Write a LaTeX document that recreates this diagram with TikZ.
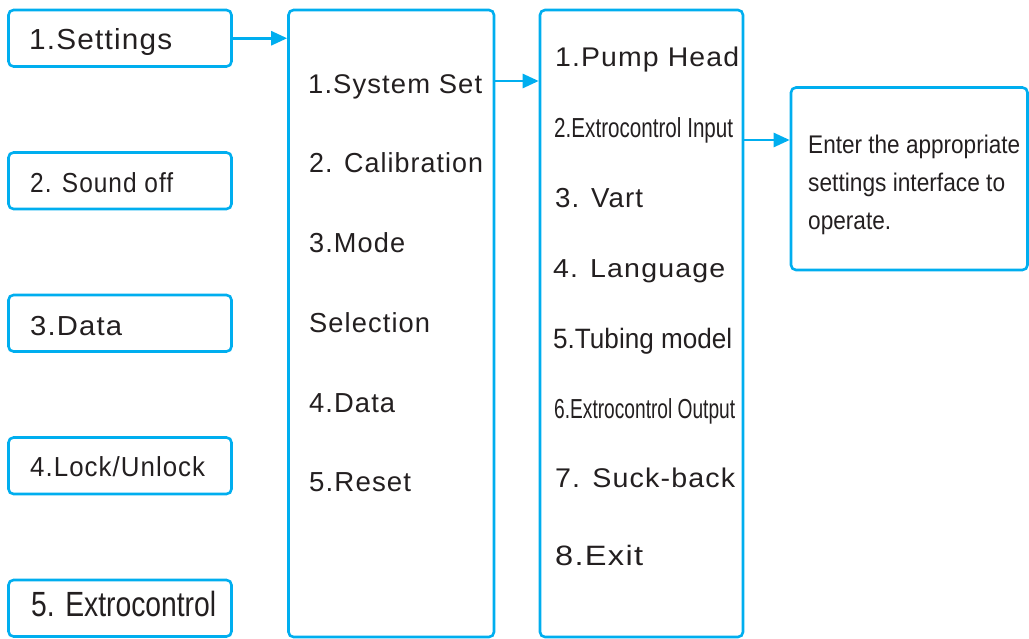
\documentclass[tikz,border=0pt]{standalone}
\usepackage{fontspec}
\setmainfont{Liberation Sans}
\newfontfamily\wfont[LetterSpace=4]{Liberation Sans}
\newfontfamily\nfont{Liberation Sans}
\usetikzlibrary{arrows.meta}
\definecolor{cy}{HTML}{00AEEF}
\definecolor{tx}{HTML}{231F20}
\newcommand\tw[4]{\resizebox{#1pt}{\height}{\fontsize{#2pt}{#2pt}#3#4}}
\tikzset{
  box/.style={draw=cy, line width=2.6pt, rounded corners=5pt, inner sep=0pt},
  lbl/.style={anchor=base west, inner sep=0pt, text=tx},
  arr/.style={draw=cy, line width=2.6pt, -{Triangle[length=16pt,width=14pt]}}
}
\begin{document}
\begin{tikzpicture}[x=1pt,y=-1pt]
\useasboundingbox (0,0) rectangle (1029,639);
% left boxes
\node[box, minimum width=223pt, minimum height=56.5pt] (l1) at (120,38.25) {};
\node[box, minimum width=223pt, minimum height=56.5pt] (l2) at (120,180.75) {};
\node[box, minimum width=223pt, minimum height=56.5pt] (l3) at (120,323.25) {};
\node[box, minimum width=223pt, minimum height=56.5pt] (l4) at (120,465.75) {};
\node[box, minimum width=223pt, minimum height=56.5pt] (l5) at (120,608.25) {};
% middle and right columns
\node[box, minimum width=205.5pt, minimum height=627pt] (m) at (391.25,323.5) {};
\node[box, minimum width=203pt, minimum height=627pt] (r) at (641.5,323.5) {};
\node[box, minimum width=236.5pt, minimum height=182.5pt] (e) at (909.25,178.75) {};
% left texts
\node[lbl] (t1) at (29,50) {\tw{143}{29}{\wfont}{1.Settings}};
\node[lbl] (t2) at (30,193) {\tw{143}{27.5}{\wfont}{2. Sound off}};
\node[lbl] (t3) at (30,336) {\tw{92}{27.5}{\wfont}{3.Data}};
\node[lbl] (t4) at (30,476.7) {\tw{175}{27.5}{\wfont}{4.Lock/Unlock}};
\node[lbl] (t5) at (31,616) {\tw{185}{35}{\nfont}{5. Extrocontrol}};
% middle texts
\node[lbl] (m1) at (308,94) {\tw{174}{27}{\wfont}{1.System Set}};
\node[lbl] (m2) at (309,172.7) {\tw{174}{27.5}{\wfont}{2. Calibration}};
\node[lbl] (m3) at (309,252.7) {\tw{96}{27.5}{\wfont}{3.Mode}};
\node[lbl] (m4) at (309,332.7) {\tw{121}{27.5}{\wfont}{Selection}};
\node[lbl] (m5) at (309,412) {\tw{86}{27.5}{\wfont}{4.Data}};
\node[lbl] (m6) at (309,491.5) {\tw{102}{27.5}{\wfont}{5.Reset}};
% right texts
\node[lbl] (r1) at (555,66.7) {\tw{184}{27}{\wfont}{1.Pump Head}};
\node[lbl] (r2) at (554,137.3) {\tw{179}{27.5}{\nfont}{2.Extrocontrol Input}};
\node[lbl] (r3) at (555,208) {\tw{88}{27.5}{\wfont}{3. Vart}};
\node[lbl] (r4) at (553,277.3) {\tw{172}{26}{\wfont}{4. Language}};
\node[lbl] (r5) at (553,348.3) {\tw{179}{28}{\nfont}{5.Tubing model}};
\node[lbl] (r6) at (554,418) {\tw{181}{27.5}{\nfont}{6.Extrocontrol Output}};
\node[lbl] (r7) at (555,487.3) {\tw{180}{27}{\wfont}{7. Suck-back}};
\node[lbl] (r8) at (555,565) {\tw{88}{28}{\wfont}{8.Exit}};
% explanation texts
\node[lbl] (e1) at (808,153.3) {\tw{212}{25.5}{\nfont}{Enter the appropriate}};
\node[lbl] (e2) at (808,191.3) {\tw{197}{25.5}{\nfont}{settings interface to}};
\node[lbl] (e3) at (808,229.3) {\tw{83}{25.5}{\nfont}{operate.}};
% arrows
\draw[arr] (l1.east) -- (m.west |- l1.east);
\draw[arr] (m.east |- 0,81) -- (r.west |- 0,81);
\draw[arr] (r.east |- 0,140) -- (e.west |- 0,140);
\end{tikzpicture}
\end{document}
